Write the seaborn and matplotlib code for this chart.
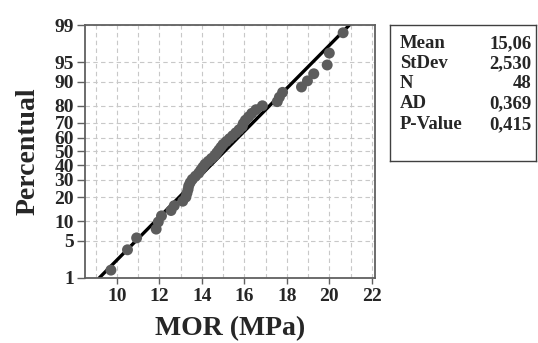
import numpy as np
import pandas as pd
import seaborn as sns
import matplotlib.pyplot as plt
from statistics import NormalDist

# sorted MOR values (MPa)
mor = [9.72, 10.50, 10.93, 11.85, 11.95, 12.10, 12.55, 12.70, 13.10, 13.25,
       13.30, 13.35, 13.38, 13.45, 13.55, 13.70, 13.85, 13.95, 14.05, 14.15,
       14.30, 14.45, 14.60, 14.70, 14.80, 14.90, 15.00, 15.15, 15.30, 15.45,
       15.60, 15.75, 15.90, 15.95, 16.05, 16.20, 16.35, 16.55, 16.85, 17.55,
       17.65, 17.80, 18.69, 18.97, 19.27, 19.90, 20.00, 20.65]

mean_fit = 15.06
sd_fit = 2.530
stat_names = ['Mean', 'StDev', 'N', 'AD', 'P-Value']
stat_values = ['15,06', '2,530', '48', '0,369', '0,415']

pct_ticks = [1, 5, 10, 20, 30, 40, 50, 60, 70, 80, 90, 95, 99]
x_ticks = [10, 12, 14, 16, 18, 20, 22]

nd = NormalDist()
n = len(mor)
# median ranks (Benard), as in Minitab
z_pts = [nd.inv_cdf((i - 0.3) / (n + 0.4)) for i in range(1, n + 1)]
df = pd.DataFrame({'mor': mor, 'z': z_pts})

z_lim = nd.inv_cdf(0.99)
fit = pd.DataFrame({'z': [-z_lim, z_lim]})
fit['mor'] = mean_fit + sd_fit * fit['z']

sns.set_theme(style='ticks')
plt.rcParams['font.family'] = ['Liberation Serif', 'DejaVu Serif']
plt.rcParams['font.weight'] = 'bold'

fig = plt.figure(figsize=(5.38, 3.43), dpi=100)
ax = fig.add_axes([0.158, 0.19, 0.539, 0.737])

sns.lineplot(data=fit, x='mor', y='z', ax=ax, color='black', lw=2.4, zorder=2)
sns.scatterplot(data=df, x='mor', y='z', ax=ax, color='#5c5c5c', s=62,
                edgecolor='none', zorder=3)

ax.set_xlim(8.5, 22.15)
ax.set_ylim(-z_lim, z_lim)
ax.set_xticks(x_ticks)
ax.set_xticks(np.arange(9, 23, 1), minor=True)
ax.set_yticks([nd.inv_cdf(p / 100) for p in pct_ticks])
ax.set_yticklabels([str(p) for p in pct_ticks])
ax.grid(True, which='both', ls=(0, (4, 3)), color='#c8c8c8', lw=0.8)
ax.set_axisbelow(True)
ax.tick_params(axis='both', which='major', labelsize=14, length=4, width=1,
               color='#606060', pad=3)
ax.tick_params(axis='x', which='minor', length=0)
ax.tick_params(axis='y', length=6, pad=2)
for lab in ax.get_xticklabels() + ax.get_yticklabels():
    lab.set_fontweight('bold')
for sp in ax.spines.values():
    sp.set_visible(True)
    sp.set_color('#606060')
    sp.set_linewidth(1.3)

ax.set_xlabel('MOR (MPa)', fontsize=20, fontweight='bold', labelpad=8)
ax.set_ylabel('Percentual', fontsize=20, fontweight='bold', labelpad=10)

# statistics box
bx = fig.add_axes([0.725, 0.531, 0.271, 0.396])
bx.set_xticks([])
bx.set_yticks([])
for sp in bx.spines.values():
    sp.set_color('#404040')
    sp.set_linewidth(1.0)
rows_y = [0.862, 0.714, 0.567, 0.42, 0.266]
for name, val, yy in zip(stat_names, stat_values, rows_y):
    bx.text(0.068, yy, name, fontsize=13.5, fontweight='bold', va='center', ha='left')
    bx.text(0.97, yy, val, fontsize=13.5, fontweight='bold', va='center', ha='right')

plt.savefig('out.png', dpi=100)
